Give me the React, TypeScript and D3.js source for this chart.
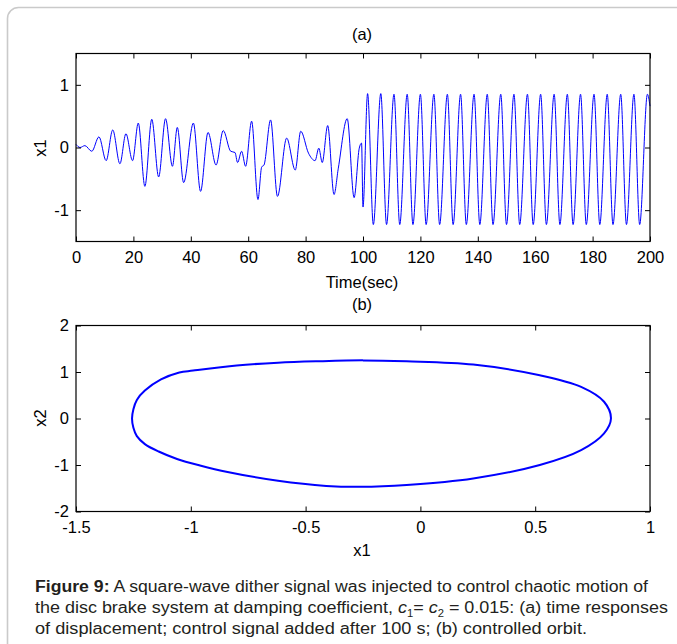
import React, { useRef, useEffect } from 'react';
import * as d3 from 'd3';

const W = 677;
const H = 644;
const FONT = '"Liberation Sans", Arial, Helvetica, sans-serif';
const BLUE = '#0000ff';
const FS = 16.5;

// (a) time response x1, 0..100 s, before the dither is switched on (turning points)
const chaoticTime = [0, 1.4, 3.1, 5.5, 8.0, 10.5, 12.8, 15.3, 17.4, 19.7, 21.7, 24.0, 26.4, 28.8, 31.2, 33.6, 35.3, 37.5, 40.9, 43.4, 46.0, 48.8, 51.3, 53.9, 55.4, 56.3, 57.7, 59.1, 61.2, 63.4, 64.7, 65.5, 67.8, 70.2, 73.4, 76.4, 78.3, 81.0, 83.3, 84.6, 85.8, 87.7, 89.9, 91.4, 94.5, 96.9, 98.7, 99.5, 100.0];
const chaoticX1 = [0.05, 0.0, 0.03, -0.06, 0.17, -0.21, 0.28, -0.26, 0.22, -0.21, 0.39, -0.62, 0.45, -0.47, 0.46, -0.3, 0.32, -0.56, 0.39, -0.7, 0.24, -0.28, 0.27, -0.06, -0.08, -0.24, -0.06, -0.3, 0.42, -0.83, -0.31, -0.28, 0.44, -0.78, 0.15, -0.36, 0.26, -0.09, -0.21, -0.01, -0.24, 0.35, -0.75, -0.33, 0.46, -0.8, -0.01, 0.07, -0.95];

// (a) after 100 s: controlled oscillation, peaks and troughs
const peakTime = [101.6, 106.2, 110.8, 115.4, 120.0, 124.7, 129.4, 134.0, 138.7, 143.3, 148.0, 152.6, 157.3, 161.9, 166.6, 171.2, 175.8, 180.5, 185.1, 189.8, 194.4, 199.1];
const peakX1 = [0.86, 0.86, 0.85, 0.85, 0.85, 0.85, 0.85, 0.85, 0.85, 0.85, 0.85, 0.85, 0.85, 0.85, 0.85, 0.85, 0.85, 0.85, 0.85, 0.85, 0.85, 0.85];
const troughTime = [103.6, 108.2, 112.8, 117.4, 122.0, 126.7, 131.4, 136.0, 140.7, 145.3, 150.0, 154.6, 159.3, 163.9, 168.6, 173.2, 177.8, 182.5, 187.1, 191.8, 196.4];
const troughX1 = [-1.23, -1.23, -1.23, -1.23, -1.23, -1.23, -1.23, -1.23, -1.23, -1.23, -1.23, -1.23, -1.23, -1.23, -1.23, -1.23, -1.23, -1.23, -1.23, -1.23, -1.23];
const endTime = 200;
const endX1 = 0.66;

// (b) controlled orbit (x1, x2)
const orbitX1 = [0.83, 0.8, 0.7, 0.52, 0.23, -0.06, -0.25, -0.45, -0.62, -0.8, -0.99, -1.05, -1.13, -1.2, -1.235, -1.25, -1.256, -1.25, -1.235, -1.2, -1.14, -1.06, -0.96, -0.84, -0.62, -0.41, -0.26, -0.06, 0.23, 0.52, 0.7, 0.8];
const orbitX2 = [0.0, 0.36, 0.68, 0.93, 1.16, 1.23, 1.25, 1.23, 1.2, 1.14, 1.03, 0.99, 0.84, 0.6, 0.4, 0.2, 0.0, -0.2, -0.38, -0.55, -0.71, -0.87, -1.01, -1.15, -1.34, -1.45, -1.47, -1.43, -1.29, -1.0, -0.68, -0.32];

// ticks
const timeTicks = [0, 20, 40, 60, 80, 100, 120, 140, 160, 180, 200];
const x1Ticks = [-1, 0, 1];
const orbitX1Ticks = [-1.5, -1, -0.5, 0, 0.5, 1];
const orbitX2Ticks = [-2, -1, 0, 1, 2];

const fmt = (d: any) => String(d);

function drawFrame(g: any, x: any, y: any, xTicks: number[], yTicks: number[]) {
  const [xl, xr] = x.range();
  const [yb, yt] = y.range();
  const ax = g.append('g');
  ax.append('g').attr('transform', `translate(0,${yb})`)
    .call(d3.axisBottom(x).tickValues(xTicks).tickSizeInner(-5).tickSizeOuter(0).tickPadding(10).tickFormat(fmt));
  ax.append('g').attr('transform', `translate(0,${yt})`)
    .call(d3.axisTop(x).tickValues(xTicks).tickSizeInner(-5).tickSizeOuter(0).tickFormat(() => ''));
  ax.append('g').attr('transform', `translate(${xl},0)`)
    .call(d3.axisLeft(y).tickValues(yTicks).tickSizeInner(-5).tickSizeOuter(0).tickPadding(7).tickFormat(fmt));
  ax.append('g').attr('transform', `translate(${xr},0)`)
    .call(d3.axisRight(y).tickValues(yTicks).tickSizeInner(-5).tickSizeOuter(0).tickFormat(() => ''));
  ax.selectAll('.domain').remove();
  ax.selectAll('g').attr('font-family', FONT).attr('font-size', FS);
  ax.selectAll('text').attr('fill', '#000');
  ax.selectAll('line').attr('stroke', '#000').attr('stroke-width', 1);
  ax.append('rect')
    .attr('x', xl).attr('y', yt).attr('width', xr - xl).attr('height', yb - yt)
    .attr('fill', 'none').attr('stroke', '#000').attr('stroke-width', 1.2);
}

function label(g: any, x: number, y: number, txt: string, rotate = false) {
  const t = g.append('text')
    .attr('font-family', FONT).attr('font-size', FS).attr('fill', '#000')
    .attr('text-anchor', 'middle').attr('dominant-baseline', 'central')
    .text(txt);
  if (rotate) t.attr('transform', `translate(${x},${y}) rotate(-90)`);
  else t.attr('x', x).attr('y', y);
}

const Charts = () => {
  const svgRef = useRef<SVGSVGElement>(null);

  useEffect(() => {
    const svg = d3.select(svgRef.current);
    svg.selectAll('*').remove();

    // outer frame
    svg.append('rect')
      .attr('x', 7.5).attr('y', 7.5).attr('width', 720).attr('height', 700).attr('rx', 11)
      .attr('fill', 'none').attr('stroke', '#cacaca').attr('stroke-width', 1.6);

    // ----- (a) time response -----
    const xa = d3.scaleLinear().domain([0, 200]).range([76, 650]);
    const ya = d3.scaleLinear().domain([-1.5, 1.5]).range([241.5, 53.5]);
    const ga = svg.append('g');

    const pts: [number, number][] = chaoticTime.map((t, i) => [t, chaoticX1[i]]);
    peakTime.forEach((t, i) => {
      pts.push([t, peakX1[i]]);
      if (i < troughTime.length) pts.push([troughTime[i], troughX1[i]]);
    });
    pts.push([endTime, endX1]);

    ga.append('path')
      .datum(pts)
      .attr('fill', 'none')
      .attr('stroke', BLUE)
      .attr('stroke-width', 1)
      .attr('d', d3.line<[number, number]>()
        .x(d => xa(d[0]))
        .y(d => ya(d[1]))
        .curve(d3.curveMonotoneX));

    drawFrame(ga, xa, ya, timeTicks, x1Ticks);
    label(ga, 362, 34, '(a)');
    label(ga, 362, 282, 'Time(sec)');
    label(ga, 40, 148, 'x1', true);

    // ----- (b) orbit -----
    const xb = d3.scaleLinear().domain([-1.5, 1]).range([76, 650]);
    const yb = d3.scaleLinear().domain([-2, 2]).range([511.5, 325.5]);
    const gb = svg.append('g');

    const orbit: [number, number][] = orbitX1.map((v, i) => [v, orbitX2[i]]);
    gb.append('path')
      .datum(orbit)
      .attr('fill', 'none')
      .attr('stroke', BLUE)
      .attr('stroke-width', 2)
      .attr('d', d3.line<[number, number]>()
        .x(d => xb(d[0]))
        .y(d => yb(d[1]))
        .curve(d3.curveCatmullRomClosed.alpha(0.5)));

    drawFrame(gb, xb, yb, orbitX1Ticks, orbitX2Ticks);
    label(gb, 362, 304, '(b)');
    label(gb, 362, 550, 'x1');
    label(gb, 40, 418, 'x2', true);
  }, []);

  return (
    <svg ref={svgRef} width={W} height={H}
      style={{ position: 'absolute', left: 0, top: 0, background: '#fff' }} />
  );
};

export default function App() {
  const cap = { fontFamily: FONT, fontSize: 16, fill: '#231f20' } as any;
  return (
    <div style={{ position: 'absolute', left: 0, top: 0, width: W, height: H, background: '#fff' }}>
      <Charts />
      <svg width={W} height={H} style={{ position: 'absolute', left: 0, top: 0 }}>
        <text x={35} y={592} style={cap} textLength={613} lengthAdjust="spacingAndGlyphs">
          <tspan fontWeight="bold">Figure 9:</tspan> A square-wave dither signal was injected to control chaotic motion of
        </text>
        <text x={35} y={613} style={cap} textLength={633} lengthAdjust="spacingAndGlyphs">
          the disc brake system at damping coefficient, <tspan fontStyle="italic">c</tspan>
          <tspan fontSize={10} dy={4}>1</tspan>
          <tspan dy={-4}>= </tspan>
          <tspan fontStyle="italic">c</tspan>
          <tspan fontSize={10} dy={4}>2</tspan>
          <tspan dy={-4}> = 0.015: (a) time responses</tspan>
        </text>
        <text x={35} y={634} style={cap} textLength={552} lengthAdjust="spacingAndGlyphs">
          of displacement; control signal added after 100 s; (b) controlled orbit.
        </text>
      </svg>
    </div>
  );
}
